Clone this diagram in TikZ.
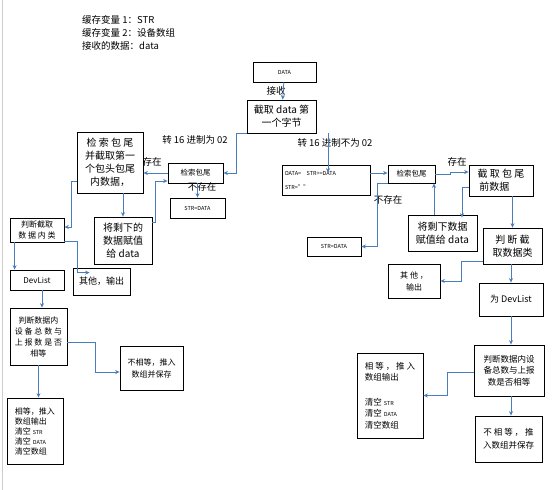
\documentclass[tikz,border=0pt]{standalone}
\usepackage{fontspec}
\setmainfont{Noto Sans CJK SC}
\usepackage{tikz}
\usetikzlibrary{arrows.meta, positioning, calc}
\definecolor{mylink}{RGB}{74,126,187}
\definecolor{mygray}{RGB}{205,205,205}
\tikzset{
  block/.style={rectangle, draw=black, fill=white, align=center,
    inner sep=1pt, line width=0.8pt, font=\fontsize{10}{13}\selectfont},
  smallblock/.style={block, font=\fontsize{8.5}{11.5}\selectfont},
  tinyblock/.style={block, font=\fontsize{5.5}{8}\selectfont},
  arrow/.style={-{Stealth[length=4.5pt, width=4pt]}, line width=0.8pt, color=mylink},
  lbl/.style={font=\fontsize{9.5}{11}\selectfont, inner sep=0pt}
}

\begin{document}
\begin{tikzpicture}[x=1pt, y=-1pt]
  \useasboundingbox (0,0) rectangle (552,490);
  \draw[mygray, line width=1pt] (2,0) -- (2,490);

  % variables
  \node[anchor=west, align=left, inner sep=0pt, font=\fontsize{9.5}{13}\selectfont] (vars) at (82,33)
    {缓存变量 1：STR\\缓存变量 2：设备数组\\接收的数据：data};

  % top
  \node[tinyblock, minimum width=63pt, minimum height=20pt] (data) at (284.5,72) {DATA};
  \node[block, minimum width=69pt, minimum height=33pt] (cut) at (281.5,116.5) {截取 data 第\\一个字节};

  % left branch
  \node[smallblock, font=\fontsize{7.5}{10}\selectfont, minimum width=55pt, minimum height=20pt] (findL) at (195.5,173) {检索包尾};
  \node[tinyblock, minimum width=55pt, minimum height=20pt] (strL) at (197.5,208) {STR=DATA};
  \node[block, minimum width=66pt, minimum height=61pt] (cutL) at (110,162.5) {检 索 包 尾\\并截取第一\\个包头包尾\\内数据，};
  \node[block, minimum width=58pt, minimum height=47pt] (restL) at (123,240.5) {将剩下的\\数据赋值\\给 data};
  \node[smallblock, font=\fontsize{8}{11}\selectfont, minimum width=54pt, minimum height=24pt] (typeL) at (37,230) {判断截取\\数 据 内 类};
  \node[smallblock, font=\fontsize{9}{11}\selectfont, minimum width=57pt, minimum height=27pt] (otherL) at (101.5,281.5) {其他，输出};
  \node[smallblock, font=\fontsize{8}{11}\selectfont, minimum width=54pt, minimum height=20pt] (devL) at (37,280) {DevList};
  \node[smallblock, font=\fontsize{8}{11}\selectfont, minimum width=57pt, minimum height=57pt] (cntL) at (38.5,336.5) {判断数据内\\设 备 总 数 与\\上 报 数 是 否\\相等};
  \node[smallblock, font=\fontsize{8}{12}\selectfont, minimum width=63pt, minimum height=44pt] (neqL) at (151.5,368) {不相等，推入\\数组并保存};
  \node[smallblock, font=\fontsize{8}{10}\selectfont, align=left, minimum width=56pt, minimum height=66pt] (eqL) at (35,431)
    {相等，推入\\数组输出\\清空 {\fontsize{5.5}{8}\selectfont STR}\\清空 {\fontsize{5.5}{8}\selectfont DATA}\\清空数组};

  % right branch
  \node[tinyblock, font=\fontsize{5.5}{14}\selectfont, align=left, text width=82pt, minimum width=88pt, minimum height=30pt] (dataeq) at (326,180)
    {DATA=\ \ \ STR+=DATA\\STR=""};
  \node[smallblock, font=\fontsize{7.5}{10}\selectfont, minimum width=47pt, minimum height=18pt] (findR) at (411.5,174) {检索包尾};
  \node[block, minimum width=64pt, minimum height=31pt] (cutR) at (501,180.5) {截 取 包 尾\\前数据\ \ \ \ \ \ \ };
  \node[block, minimum width=69pt, minimum height=36pt] (restR) at (442.5,233) {将剩下数据\\赋值给 data};
  \node[tinyblock, minimum width=54pt, minimum height=19pt] (strR) at (334,246.5) {STR=DATA};
  \node[block, minimum width=59pt, minimum height=36pt] (typeR) at (512.5,246) {判 断 截\\取数据类};
  \node[smallblock, font=\fontsize{8}{12}\selectfont, minimum width=52pt, minimum height=34pt] (otherR) at (414,281) {其 他 ，\\输出};
  \node[smallblock, font=\fontsize{9}{11}\selectfont, minimum width=64pt, minimum height=33pt] (devR) at (511,299.5) {为 DevList};
  \node[smallblock, minimum width=70pt, minimum height=51pt] (cntR) at (509,370.5) {判断数据内设\\备总数与上报\\数是否相等};
  \node[smallblock, align=left, minimum width=66pt, minimum height=85pt] (eqR) at (390,395.5)
    {相 等 ， 推 入\\数组输出\\[13pt]清空 {\fontsize{5.5}{8}\selectfont STR}\\清空 {\fontsize{5.5}{8}\selectfont DATA}\\清空数组};
  \node[smallblock, font=\fontsize{8.5}{13}\selectfont, minimum width=67pt, minimum height=46pt] (neqR) at (508.5,439) {不 相 等 ， 推\\入数组并保存};

  % labels
  \node[lbl] (recv) at (276,91) {接收};
  \node[lbl] (is02) at (195,140) {转 16 进制为 02};
  \node[lbl] (not02) at (335,143) {转 16 进制不为 02};
  \node[lbl] (hasL) at (152,162) {存在};
  \node[lbl] (noL) at (202,187) {不存在};
  \node[lbl] (hasR) at (457,162) {存在};
  \node[lbl] (noR) at (388,200) {不存在};

  % Paths
  \draw[arrow] (data) -- (cut);
  \draw[arrow] (cut.south west) -- ++(-10,0) |- (findL.east);
  \draw[arrow] ($(cut.south)+(46.5,0)$) -- ($(dataeq.north)+(2,8)$);

  \draw[arrow] (findL.west) -- (cutL.east |- findL.west);
  \draw[arrow] (findL.south -| strL.north) -- (strL.north);
  \draw[arrow] (cutL.south -| restL.north) -- (restL.north);
  \draw[arrow] ([yshift=-6pt]restL.north east) -- ++(3,0) |- ([yshift=-8pt]findL.west);
  \draw[arrow] ([yshift=-18.5pt]cutL.west) -- ++(-5,0) |- ([yshift=3pt]typeL.east);
  \draw[arrow] ([xshift=5pt]typeL.south west) -- ([xshift=5pt]devL.north west);
  \draw[arrow] ([yshift=1pt]typeL.south east) -- ++(13,0) |- ([xshift=17pt,yshift=-5pt]otherL.north west);
  \draw[arrow] ([xshift=5pt]devL.south) -- ([xshift=5pt]devL.south |- cntL.north);
  \draw[arrow] ([yshift=-5.5pt]cntL.east) -- ++(28,0) |- ([yshift=-4pt]neqL.west);
  \draw[arrow] (cntL.south) -- (cntL.south |- eqL.north);

  \draw[arrow] ([yshift=7pt]dataeq.east) -- ([yshift=7pt]dataeq.east -| findR.west);
  \draw[arrow] (findR.east) -- ++(15,0) |- ([yshift=8.5pt]cutR.west);
  \draw[arrow] ([yshift=-6.5pt]cutR.west) -| ([xshift=19.5pt,yshift=-3pt]restR.north);
  \draw[arrow] ([xshift=-8.5pt]restR.north) -- ([xshift=-8.5pt]restR.north |- findR.south);
  \draw[arrow] (findR.south west) -- ++(-10,0) |- (strR.east);
  \draw[arrow] (typeR.north |- cutR.south) -- (typeR.north);
  \draw[arrow] ([yshift=3pt]typeR.south west) -- ++(-21,0) |- (otherR.east);
  \draw[arrow] (typeR.south -| devR.north) -- (devR.north);
  \draw[arrow] (devR.south) -- (devR.south |- cntR.north);
  \draw[arrow] ([yshift=-1.5pt]cntR.west) -- ++(-26,0) |- (eqR.east);
  \draw[arrow] ([xshift=2pt]cntR.south) -- ([xshift=2pt]cntR.south |- neqR.north);
\end{tikzpicture}
\end{document}
